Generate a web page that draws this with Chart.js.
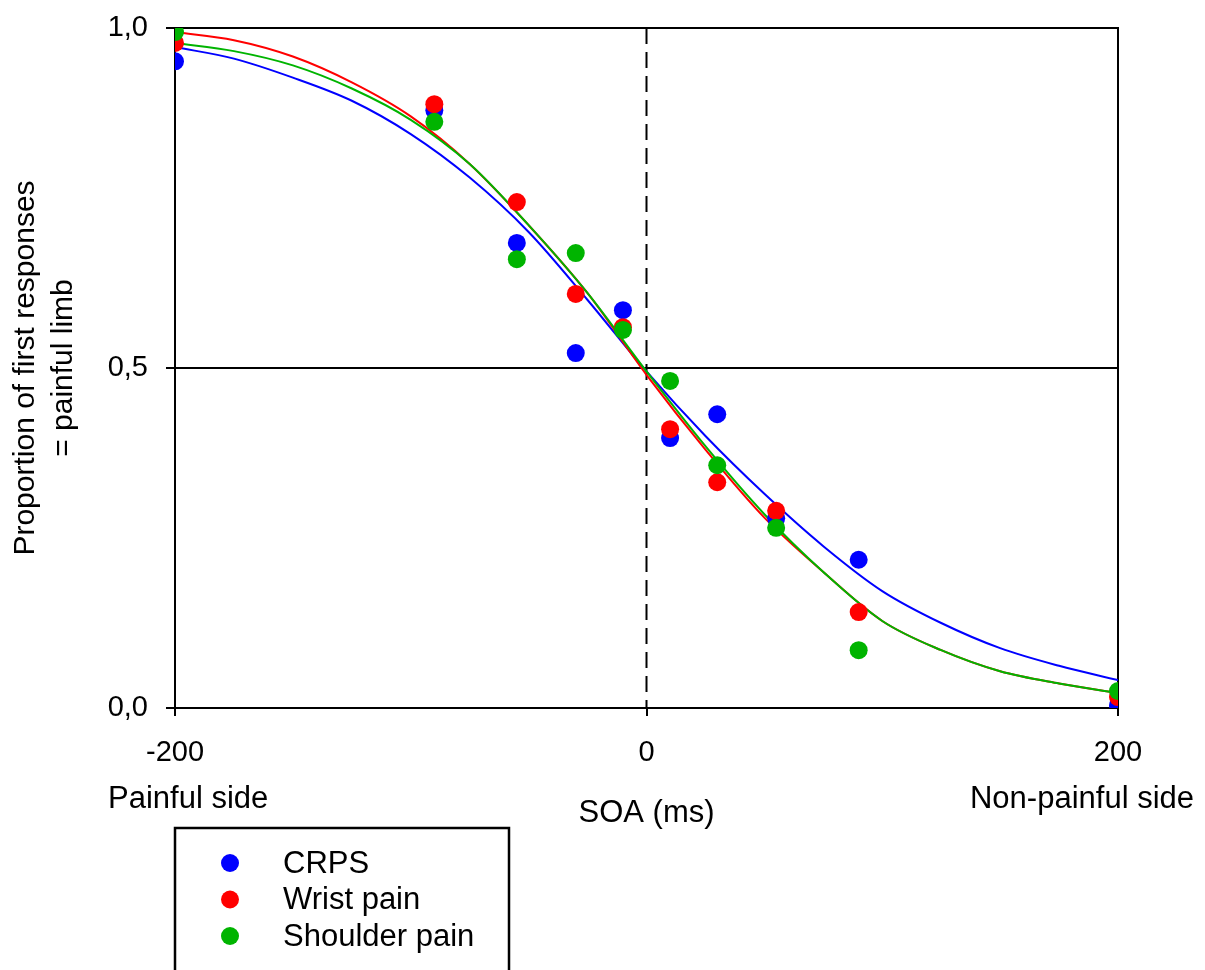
<!DOCTYPE html>
<html>
<head>
<meta charset="utf-8">
<title>Temporal order judgement</title>
<script src="https://cdn.jsdelivr.net/npm/chart.js@4.4.1/dist/chart.umd.min.js"></script>
<style>
  body { margin: 0; background: #fff; }
  canvas { display: block; }
</style>
</head>
<body>
<canvas id="soa-chart" width="1205" height="970"></canvas>
<script>
const FONT = "'Liberation Sans', Arial, sans-serif";

// measured points (SOA in ms)
const soa = [-200, -90, -55, -30, -10, 10, 30, 55, 90, 200];
const crps = [0.951, 0.879, 0.684, 0.522, 0.585, 0.397, 0.432, 0.279, 0.218, 0.004];
const wrist = [0.978, 0.888, 0.744, 0.609, 0.56, 0.41, 0.332, 0.29, 0.141, 0.016];
const shoulder = [0.994, 0.862, 0.66, 0.669, 0.556, 0.481, 0.357, 0.265, 0.085, 0.025];

// fitted curves, every 25 ms
const fitSoa = [-200, -175, -150, -125, -100, -75, -50, -25, 0, 25, 50, 75, 100, 125, 150, 175, 200];
const crpsFit = [0.972, 0.955, 0.927, 0.893, 0.844, 0.78, 0.70, 0.60, 0.495, 0.40, 0.315, 0.238, 0.172, 0.125, 0.088, 0.062, 0.041];
const wristFit = [0.994, 0.982, 0.958, 0.92, 0.87, 0.80, 0.71, 0.61, 0.49, 0.38, 0.28, 0.20, 0.128, 0.085, 0.054, 0.036, 0.022];
const shoulderFit = [0.978, 0.966, 0.945, 0.911, 0.865, 0.80, 0.71, 0.61, 0.495, 0.385, 0.285, 0.20, 0.128, 0.085, 0.054, 0.036, 0.022];

const groups = ['CRPS', 'Wrist pain', 'Shoulder pain'];
const colors = ['#0000ff', '#ff0000', '#00b400'];

const xTicks = [-200, 0, 200];
const yTicks = [0, 0.5, 1];
const yTickLabels = ['0,0', '0,5', '1,0'];

function pts(xs, ys) {
  return xs.map((x, i) => ({x: x, y: ys[i]}));
}

function dots(label, ys, color, order) {
  return {
    label: label,
    data: pts(soa, ys),
    backgroundColor: color,
    borderWidth: 0,
    pointRadius: 9,
    showLine: false,
    order: order
  };
}

function curve(ys, color, order) {
  return {
    label: '',
    data: pts(fitSoa, ys),
    borderColor: color,
    borderWidth: 2,
    pointRadius: 0,
    showLine: true,
    cubicInterpolationMode: 'monotone',
    order: order
  };
}

// box, 0.5 line and dashed line at SOA 0
const frame = {
  id: 'frame',
  beforeDatasetsDraw(chart) {
    const {ctx, chartArea: a, scales: {x, y}} = chart;
    ctx.save();
    ctx.strokeStyle = '#000';
    ctx.lineWidth = 2;
    ctx.strokeRect(a.left, a.top, a.right - a.left, a.bottom - a.top);
    const yMid = y.getPixelForValue(0.5);
    ctx.beginPath();
    ctx.moveTo(a.left, yMid);
    ctx.lineTo(a.right, yMid);
    ctx.stroke();
    const x0 = x.getPixelForValue(0);
    ctx.setLineDash([16, 8]);
    ctx.beginPath();
    ctx.moveTo(x0, a.top);
    ctx.lineTo(x0, a.bottom);
    ctx.stroke();
    ctx.restore();
  }
};

// texts under the axis and the legend box
const extras = {
  id: 'extras',
  afterDraw(chart) {
    const ctx = chart.ctx;
    const x0 = chart.scales.x.getPixelForValue(0);
    ctx.save();
    ctx.fillStyle = '#000';
    ctx.textBaseline = 'alphabetic';
    ctx.font = '31px ' + FONT;
    ctx.textAlign = 'left';
    ctx.fillText('Painful side', 108, 808);
    ctx.textAlign = 'right';
    ctx.fillText('Non-painful side', 1194, 808);
    ctx.textAlign = 'center';
    ctx.fillText('SOA (ms)', x0, 822);

    ctx.strokeStyle = '#000';
    ctx.lineWidth = 2.5;
    ctx.strokeRect(175, 828, 334, 200);
    ctx.textAlign = 'left';
    ctx.textBaseline = 'middle';
    groups.forEach((g, i) => {
      const yy = 863 + i * 36.5;
      ctx.fillStyle = colors[i];
      ctx.beginPath();
      ctx.arc(230, yy, 9, 0, Math.PI * 2);
      ctx.fill();
      ctx.fillStyle = '#000';
      ctx.fillText(g, 283, yy + 1);
    });
    ctx.restore();
  }
};

const ctx_soa = document.getElementById('soa-chart').getContext('2d');

const soa_chart = new Chart(ctx_soa, {
  type: 'scatter',
  data: {
    datasets: [
      curve(crpsFit, colors[0], 13),
      curve(wristFit, colors[1], 12),
      curve(shoulderFit, colors[2], 11),
      dots(groups[0], crps, colors[0], 3),
      dots(groups[1], wrist, colors[1], 2),
      dots(groups[2], shoulder, colors[2], 1)
    ]
  },
  options: {
    responsive: false,
    animation: false,
    devicePixelRatio: 1,
    layout: {
      padding: {left: 0, top: 28, right: 87, bottom: 0}
    },
    plugins: {
      legend: {display: false},
      tooltip: {enabled: false}
    },
    scales: {
      x: {
        type: 'linear',
        min: -200,
        max: 200,
        afterBuildTicks: s => { s.ticks = xTicks.map(v => ({value: v})); },
        afterFit: s => { s.height = 262; s.paddingLeft = 0; s.paddingRight = 0; },
        border: {display: false},
        grid: {drawOnChartArea: false, color: '#000', lineWidth: 2, tickLength: 8},
        ticks: {
          color: '#000',
          padding: 20,
          maxRotation: 0,
          font: {family: FONT, size: 29},
          callback: v => String(v)
        }
      },
      y: {
        type: 'linear',
        min: 0,
        max: 1,
        afterBuildTicks: s => { s.ticks = yTicks.map(v => ({value: v})); },
        afterFit: s => { s.width = 175; s.paddingTop = 0; s.paddingBottom = 0; },
        border: {display: false},
        grid: {drawOnChartArea: false, color: '#000', lineWidth: 2, tickLength: 9},
        ticks: {
          color: '#000',
          padding: 18,
          font: {family: FONT, size: 29},
          callback: (v, i) => yTickLabels[i]
        },
        title: {
          display: true,
          text: ['Proportion of first responses', '= painful limb'],
          color: '#000',
          font: {family: FONT, size: 30, lineHeight: 1.25},
          padding: {top: 7, bottom: 0}
        }
      }
    }
  },
  plugins: [frame, extras]
});
</script>
</body>
</html>
